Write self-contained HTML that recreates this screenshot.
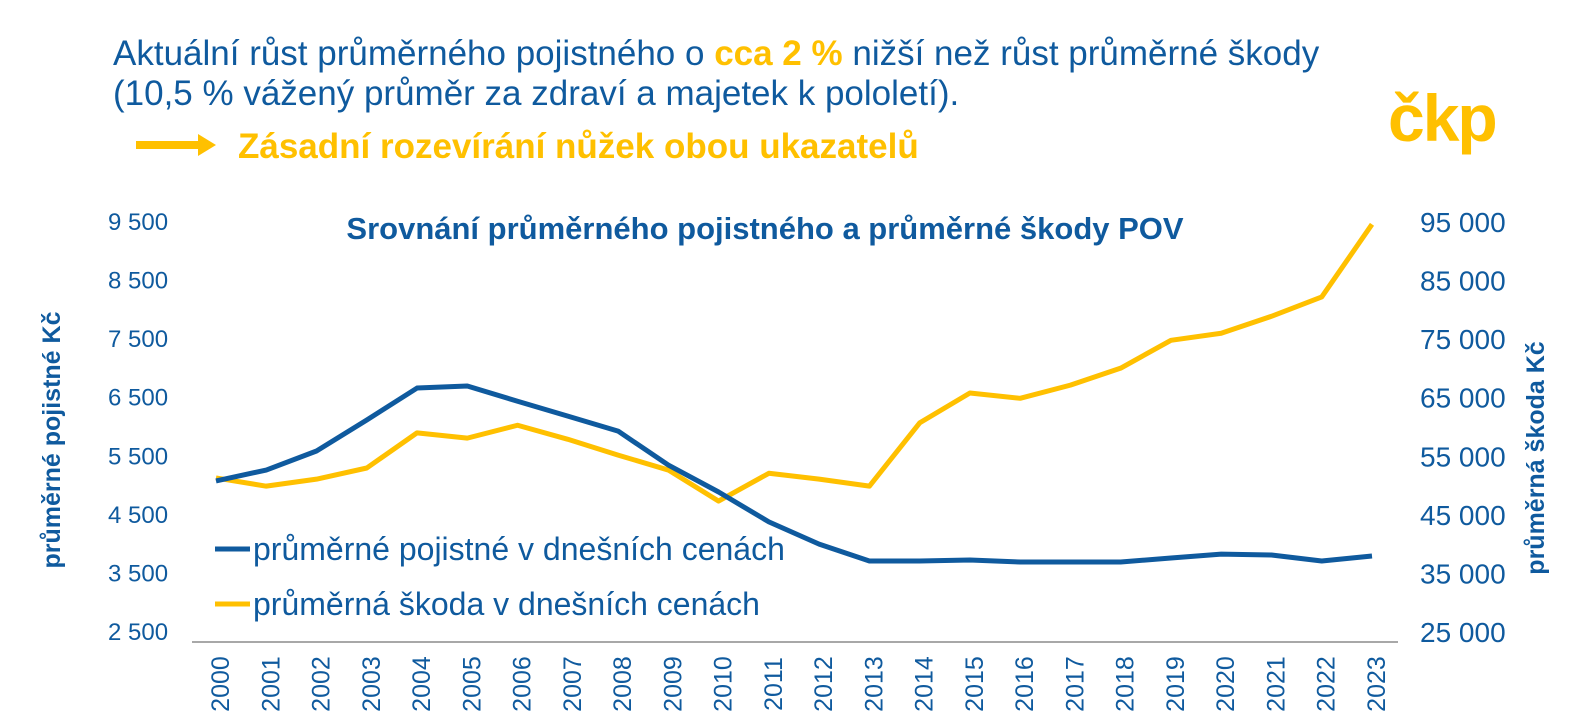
<!DOCTYPE html>
<html><head><meta charset="utf-8">
<style>
body{margin:0;width:1593px;height:728px;background:#fff;overflow:hidden;font-family:"Liberation Sans",Arial,sans-serif;position:relative}
.h{position:absolute;left:113px;font-size:35px;color:#0F5A9E;line-height:40px;white-space:nowrap}
</style></head><body>
<div class="h" style="top:34px">Aktuální růst průměrného pojistného o <b style="color:#FFC000">cca 2 %</b> nižší než růst průměrné škody<br>(10,5 % vážený průměr za zdraví a majetek k pololetí).</div>
<svg style="position:absolute;left:136px;top:133px" width="82" height="24"><rect x="0" y="8" width="66" height="8" fill="#FFC000"/><polygon points="62,1 80,12 62,23" fill="#FFC000"/></svg>
<div style="position:absolute;left:238px;top:127px;font-size:35px;font-weight:bold;color:#FFC000;white-space:nowrap">Zásadní rozevírání nůžek obou ukazatelů</div>
<div style="position:absolute;left:1388px;top:80px;font-size:66px;font-weight:bold;color:#FFC000;letter-spacing:-2px">čkp</div>
<svg id="c" width="1593" height="728" style="position:absolute;left:0;top:0"></svg>
<script>
const years=["2000","2001","2002","2003","2004","2005","2006","2007","2008","2009","2010","2011","2012","2013","2014","2015","2016","2017","2018","2019","2020","2021","2022","2023"];
const premium=[5080,5265,5590,6120,6665,6700,6440,6185,5930,5350,4890,4380,4000,3712,3712,3730,3695,3695,3695,3763,3830,3814,3712,3797];
const claims=[51300,49900,51100,53000,59000,58100,60300,57900,55200,52650,47350,52100,51100,49900,60700,65800,64900,67150,70050,74800,76000,78900,82200,94600];
const leftTicks=[2500,3500,4500,5500,6500,7500,8500,9500];
const rightTicks=[25000,35000,45000,55000,65000,75000,85000,95000];
const NS="http://www.w3.org/2000/svg",svg=document.getElementById('c');
const x=i=>216+i*(1372-216)/(years.length-1);
const yl=v=>632-(v-2500)*410/7000;
const yr=v=>632-(v-25000)*410/70000;
function mk(t,a,txt){const e=document.createElementNS(NS,t);for(const k in a)e.setAttribute(k,a[k]);if(txt!=null)e.textContent=txt;svg.appendChild(e);return e;}
const blue="#0F5A9E",yel="#FFC000";
const fmt=v=>{const s=String(v);return s.slice(0,s.length-3)+' '+s.slice(-3);};
leftTicks.forEach(v=>{const e=mk('text',{x:108,y:yl(v)+8,'font-size':24,fill:blue},fmt(v));

});
rightTicks.forEach(v=>{const e=mk('text',{x:1420,y:yr(v)+10,'font-size':28,fill:blue},fmt(v));

});
const ax=mk('line',{x1:192,x2:1398,y1:642,y2:642,stroke:'#8C8C8C','stroke-width':1.5});


years.forEach((yv,i)=>{const e=mk('text',{x:0,y:0,'font-size':25,fill:blue,transform:`translate(${x(i)+13},${684}) rotate(-90)`,'text-anchor':'middle'},yv);

});
const t=mk('text',{x:765,y:239,'font-size':31,'font-weight':'bold',fill:blue,'text-anchor':'middle'},'Srovnání průměrného pojistného a průměrné škody POV');


const yt1=mk('text',{x:0,y:0,'font-size':25,'font-weight':'bold',fill:blue,transform:'translate(60,440) rotate(-90)','text-anchor':'middle'},'průměrné pojistné Kč');


const yt2=mk('text',{x:0,y:0,'font-size':25,'font-weight':'bold',fill:blue,transform:'translate(1544,458) rotate(-90)','text-anchor':'middle'},'průměrná škoda Kč');


const l1=mk('polyline',{points:claims.map((v,i)=>x(i)+','+yr(v)).join(' '),fill:'none',stroke:yel,'stroke-width':5,'stroke-linejoin':'round'});


const l2=mk('polyline',{points:premium.map((v,i)=>x(i)+','+yl(v)).join(' '),fill:'none',stroke:blue,'stroke-width':5,'stroke-linejoin':'round'});


[[blue,'průměrné pojistné v dnešních cenách',549],[yel,'průměrná škoda v dnešních cenách',604]].forEach(([c,s,yy])=>{
const g=mk('line',{x1:215,x2:250,y1:yy,y2:yy,stroke:c,'stroke-width':5});


const tx=mk('text',{x:253,y:yy+11,'font-size':32,fill:blue},s);

});
</script>
</body></html>
